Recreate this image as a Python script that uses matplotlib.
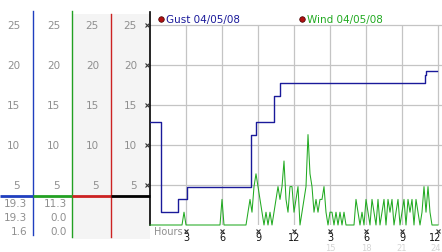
import numpy as np
import matplotlib
matplotlib.use("Agg")
import matplotlib.pyplot as plt

# ---------------- data ----------------
y_ticks = [5, 10, 15, 20, 25]
hour_ticks = [3, 6, 9, 12, 15, 18, 21, 24]
hour_labels = ["3", "6", "9", "12", "3", "6", "9", "12"]
pm_labels = ["15", "18", "21", "24"]

gust_t = [0, 0.9, 0.95, 2.35, 3.05, 8.4, 8.85, 10.35, 10.8, 22.9, 23.0, 23.9]
gust_v = [12.9, 7.5, 1.6, 3.2, 4.7, 11.3, 12.9, 16.1, 17.7, 18.7, 19.3, 19.3]

# wind, one sample every 10 minutes from 0h to 24h
wind_v = [
    0, 0, 0, 0, 0, 0,            # h0
    0, 0, 0, 0, 0, 0,            # h1
    0, 0, 0, 0, 0, 1.6,          # h2
    0, 0, 0, 0, 0, 0,            # h3
    0, 0, 0, 0, 0, 0,            # h4
    0, 0, 0, 0, 0, 0,            # h5
    3.2, 0, 0, 0, 0, 0,          # h6
    0, 0, 0, 0, 0, 0,            # h7
    0, 1.6, 3.2, 1.6, 4.8, 6.4,  # h8
    4.8, 3.2, 1.6, 0, 1.6, 0,    # h9
    1.6, 0, 1.6, 3.2, 4.8, 3.2,  # h10
    4.8, 8.0, 3.2, 1.6, 4.8, 4.8,  # h11
    1.6, 3.2, 4.8, 0, 1.6, 3.2,  # h12
    4.8, 11.3, 6.4, 4.8, 1.6, 3.2,  # h13
    1.6, 3.2, 3.2, 4.8, 1.6, 0,  # h14
    1.6, 1.6, 0, 1.6, 0, 1.6,    # h15
    0, 1.6, 0, 0, 0, 0,          # h16
    0, 3.2, 1.6, 0, 1.6, 0,      # h17
    3.2, 1.6, 0, 3.2, 1.6, 0,    # h18
    3.2, 0, 1.6, 3.2, 0, 3.2,    # h19
    1.6, 3.2, 0, 1.6, 3.2, 0,    # h20
    1.6, 3.2, 0, 3.2, 1.6, 3.2,  # h21
    0, 3.2, 1.6, 0, 1.6, 4.8,    # h22
    1.6, 4.8, 1.6, 0, 0, 0,      # h23
    0,                           # h24
]
wind_step_min = 10
wind_t = np.arange(len(wind_v)) * wind_step_min / 60.0

left_cols = [  # (label right x, line x, line colour)
    (20, 33, "#1f3fbf"),
    (60, 72, "#22a022"),
    (99, 111, "#cc2222"),
    (137, 150, "#000000"),
]
readings_col1 = ["19.3", "19.3", "1.6"]
readings_col2 = ["11.3", "0.0", "0.0"]

GUST_C = "#1a1a9a"
WIND_C = "#22aa22"
GRID_C = "#c4c4c4"
LAB_C = "#8f8f8f"

W, H = 442, 253
fig = plt.figure(figsize=(W / 100, H / 100), dpi=100)

# overlay axes in pixel coordinates for the left panel
ov = fig.add_axes([0, 0, 1, 1])
ov.set_xlim(0, W)
ov.set_ylim(H, 0)
ov.axis("off")

# main plot axes
x0, xr, yb, yt = 150, 442, 226, 13
px_per_h, px_per_u = 12.0, 8.0
ax = fig.add_axes([x0 / W, (H - yb) / H, (xr - x0) / W, (yb - yt) / H])
ax.set_xlim(0, (xr - x0) / px_per_h)
ax.set_ylim(0, (yb - yt) / px_per_u)
ax.patch.set_alpha(0)
for s in ["top", "right", "bottom"]:
    ax.spines[s].set_visible(False)
ax.spines["left"].set_color("black")
ax.spines["left"].set_linewidth(1.2)
ax.set_xticks([])
ax.set_yticks([])

# grid
for v in y_ticks:
    ax.axhline(v, color=GRID_C, lw=0.9, zorder=1)
ax.vlines(hour_ticks, 0, 25, color=GRID_C, lw=0.9, zorder=1)

# series
ax.plot(wind_t, wind_v, color=WIND_C, lw=0.75, zorder=3, clip_on=False)
ax.plot(gust_t, gust_v, color=GUST_C, lw=1.0, drawstyle="steps-post", zorder=4)

# tick glyphs
ax.plot([-0.25] * len(y_ticks), y_ticks, ls="none", marker="x", ms=2.6,
        mew=0.8, color="#333333", clip_on=False, zorder=5)
ax.plot(hour_ticks, [-0.75] * len(hour_ticks), ls="none", marker="x", ms=2.6,
        mew=0.8, color="#333333", clip_on=False, zorder=5)
for i, (h, lab) in enumerate(zip(hour_ticks, hour_labels)):
    hx = h - 0.2 if i == len(hour_ticks) - 1 else h
    ax.text(hx, -1.5, lab, ha="center", va="center", fontsize=7, color="#111111",
            clip_on=False)
for h, lab in zip(hour_ticks[4:], pm_labels):
    hx = h - 0.2 if h == hour_ticks[-1] else h
    ax.text(hx, -2.78, lab, ha="center", va="center", fontsize=6, color="#d4d4d4",
            clip_on=False)
ax.text(0.35, -0.75, "Hours", ha="left", va="center", fontsize=7, color=LAB_C,
        clip_on=False)

# legend
ax.plot([0.9], [25.8], marker="o", ms=4, color="#b01010", mec="#400000", mew=0.5,
        clip_on=False)
ax.text(1.3, 25.8, "Gust 04/05/08", color=GUST_C, fontsize=7.5, va="center",
        ha="left", clip_on=False)
ax.plot([12.7], [25.8], marker="o", ms=4, color="#b01010", mec="#400000", mew=0.5,
        clip_on=False)
ax.text(13.1, 25.8, "Wind 04/05/08", color=WIND_C, fontsize=7.5, va="center",
        ha="left", clip_on=False)

# ---------- left panel ----------
ov.add_patch(plt.Rectangle((72, 15), 78, 225, color="#f4f4f4", lw=0, zorder=0))
ov.plot([33, 33], [12, 236], color="#1f3fbf", lw=1.0)
ov.plot([72, 72], [12, 238], color="#22a022", lw=1.0)
ov.plot([111, 111], [15, 238], color="#cc2222", lw=1.0)

prev = 0
for (lx, linex, c) in left_cols:
    ov.plot([prev, linex], [197, 197], color=c, lw=2.0, solid_capstyle="butt")
    for v in y_ticks:
        ypix = yb - v * px_per_u
        ov.text(lx, ypix, str(v), ha="right", va="center", fontsize=7.5, color=LAB_C)
    prev = linex

for i, (a, b) in enumerate(zip(readings_col1, readings_col2)):
    ypix = 204 + i * 14
    ov.text(27, ypix, a, ha="right", va="center", fontsize=7.5, color=LAB_C)
    ov.text(67, ypix, b, ha="right", va="center", fontsize=7.5, color=LAB_C)

fig.savefig("out.png", dpi=100)
